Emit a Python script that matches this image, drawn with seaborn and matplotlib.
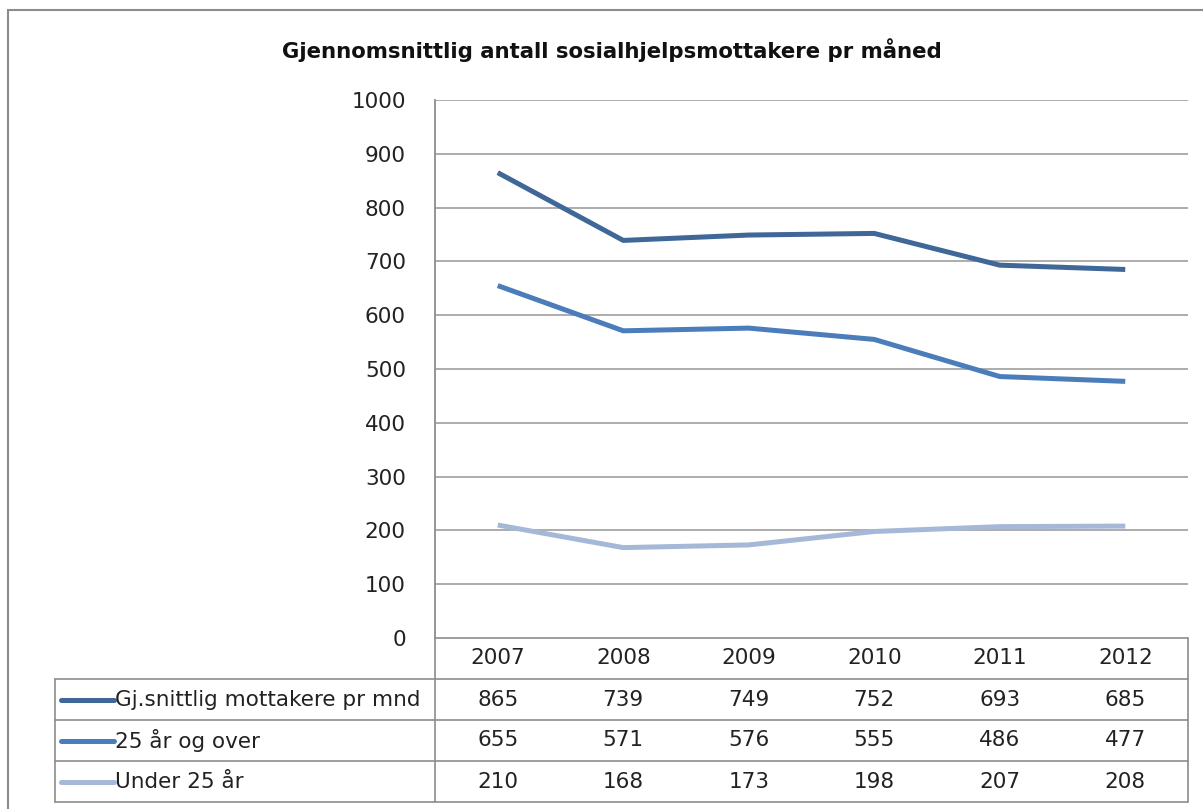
import numpy as np
import pandas as pd
import matplotlib
matplotlib.use("Agg")
import matplotlib.pyplot as plt
import seaborn as sns
from matplotlib.lines import Line2D
from matplotlib.patches import Rectangle

years = ["2007", "2008", "2009", "2010", "2011", "2012"]
series_names = ["Gj.snittlig mottakere pr mnd", "25 år og over", "Under 25 år"]
total = [865, 739, 749, 752, 693, 685]
over25 = [655, 571, 576, 555, 486, 477]
under25 = [210, 168, 173, 198, 207, 208]
yticks = [0, 100, 200, 300, 400, 500, 600, 700, 800, 900, 1000]
colors = ["#3F6797", "#4A7DBA", "#A5B8D7"]
title = "Gjennomsnittlig antall sosialhjelpsmottakere pr måned"

sns.set_theme(style="white")
plt.rcParams['font.family'] = ['DejaVu Sans']

W, H = 1203, 809
fig = plt.figure(figsize=(W / 100, H / 100), dpi=100)
fs = 15.5

def fx(px):
    return px / W

def fy(py):
    return 1 - py / H

# outer frame
fig.patches.append(Rectangle((fx(8), fy(830)), fx(1215) - fx(8), fy(10) - fy(830),
                             transform=fig.transFigure, fill=False, ec="#8C8C8C", lw=1.5))

left, right, top, bottom = 435, 1188, 100, 638
ax = fig.add_axes([fx(left), fy(bottom), fx(right) - fx(left), fy(top) - fy(bottom)])

rows = []
for name, vals in zip(series_names, [total, over25, under25]):
    for i, (yr, v) in enumerate(zip(years, vals)):
        rows.append({"idx": i, "year": yr, "serie": name, "value": v})
df = pd.DataFrame(rows)

sns.lineplot(data=df, x="idx", y="value", hue="serie", hue_order=series_names,
             palette=colors, lw=3.6, ax=ax, legend=False, solid_capstyle="butt")

ax.set_xlim(-0.5, len(years) - 0.5)
ax.set_ylim(0, 1000)
ax.set_yticks(yticks)
ax.set_yticklabels([str(t) for t in yticks], fontsize=fs, color="#222222")
ax.set_xticks([])
ax.set_xlabel("")
ax.set_ylabel("")
ax.tick_params(axis="y", length=0, pad=21)
for t in yticks[1:]:
    ax.axhline(t, color="#A6A6A6", lw=1.3, zorder=0)
for s in ["top", "right", "bottom"]:
    ax.spines[s].set_visible(False)
ax.spines["left"].set_color("#8C8C8C")
ax.spines["left"].set_linewidth(1.3)

fig.text(fx(612), fy(50), title, ha="center", va="center", fontsize=15.3,
         fontweight="bold", color="#111111")

# data table below the axis
tab_left = 55
row_tops = [638, 679, 720, 761, 802]
col_w = (right - left) / len(years)
lc = "#8C8C8C"

def hline(x0, x1, y):
    fig.add_artist(Line2D([fx(x0), fx(x1)], [fy(y), fy(y)], transform=fig.transFigure,
                          color=lc, lw=1.2))

def vline(x, y0, y1):
    fig.add_artist(Line2D([fx(x), fx(x)], [fy(y0), fy(y1)], transform=fig.transFigure,
                          color=lc, lw=1.2))

hline(left, right, row_tops[0])
for y in row_tops[1:]:
    hline(tab_left, right, y)
vline(left, row_tops[0], row_tops[-1])
vline(right, row_tops[0], row_tops[-1])
vline(tab_left, row_tops[1], row_tops[-1])

for i, yr in enumerate(years):
    cx = left + col_w * (i + 0.5)
    fig.text(fx(cx), fy((row_tops[0] + row_tops[1]) / 2), yr, ha="center", va="center",
             fontsize=fs, color="#222222")

for r, (name, vals) in enumerate(zip(series_names, [total, over25, under25])):
    cy = (row_tops[r + 1] + row_tops[r + 2]) / 2
    fig.add_artist(Line2D([fx(61), fx(114)], [fy(cy), fy(cy)], transform=fig.transFigure,
                          color=colors[r], lw=3.6, solid_capstyle="round"))
    fig.text(fx(115), fy(cy), name, ha="left", va="center", fontsize=fs, color="#222222")
    for i, v in enumerate(vals):
        cx = left + col_w * (i + 0.5)
        fig.text(fx(cx), fy(cy), str(v), ha="center", va="center", fontsize=fs,
                 color="#222222")

fig.savefig("out.png", dpi=100, facecolor="white")
